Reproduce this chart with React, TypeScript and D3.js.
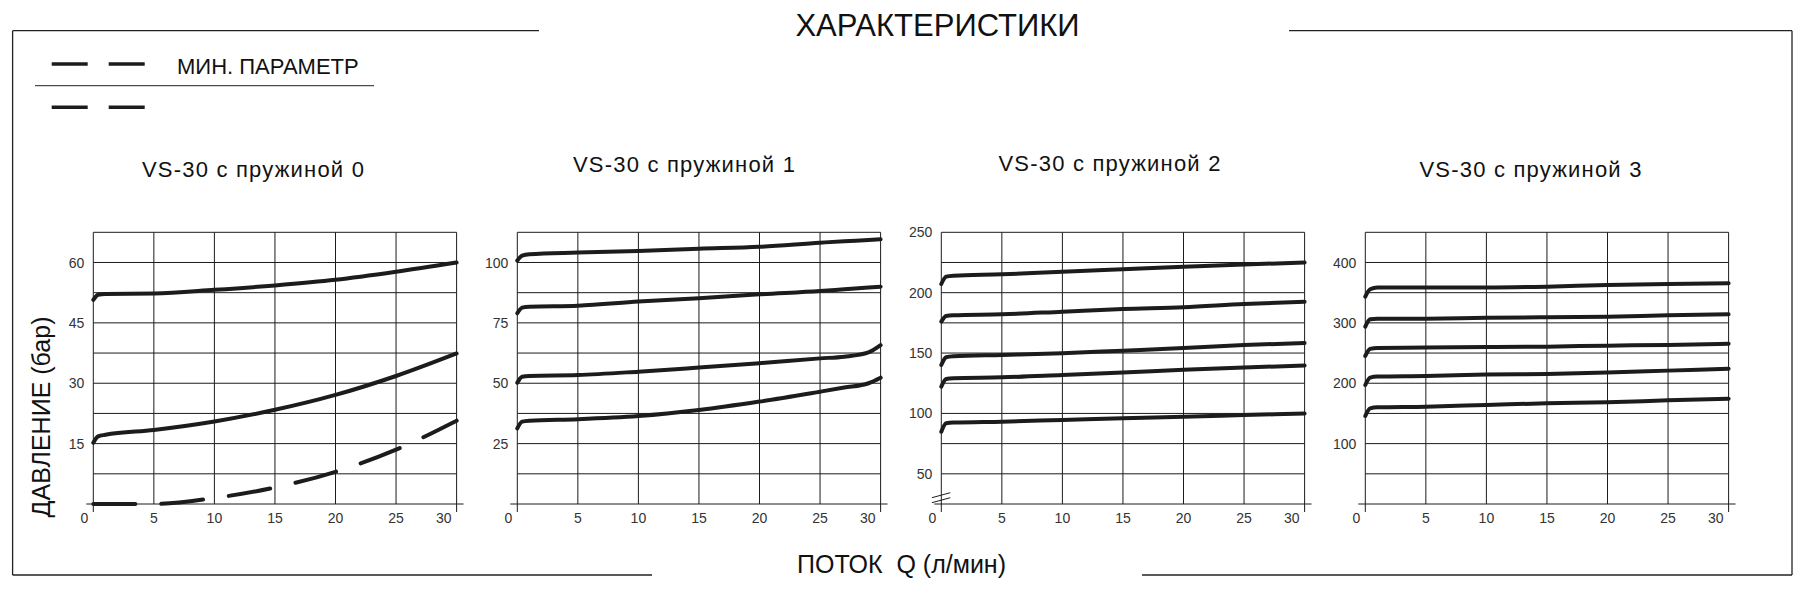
import * as d3 from "d3";
import { useEffect, useRef } from "react";

const WIDTH = 1801;
const HEIGHT = 603;

const springTitles = [
  "VS-30 с пружиной 0",
  "VS-30 с пружиной 1",
  "VS-30 с пружиной 2",
  "VS-30 с пружиной 3",
];

// x axis: flow Q, l/min
const flowTicks = [0, 5, 10, 15, 20, 25, 30];

// y axis per chart: pressure, bar
const yDomains = [
  [0, 67.5],
  [0, 112.5],
  [25, 250],
  [0, 450],
];
const yGridSteps = [7.5, 12.5, 25, 50];
const yLabels = [
  [15, 30, 45, 60],
  [25, 50, 75, 100],
  [50, 100, 150, 200, 250],
  [100, 200, 300, 400],
];

// flow points where the curves were read
const flowQ = [0, 0.4, 1, 5, 10, 15, 20, 25, 30];
const flowQ1 = [0, 0.4, 1, 5, 10, 15, 20, 25, 27, 29, 30];
const minFlowQ = [0, 5, 10, 15, 20, 25, 30];

const spring0 = [
  [50.7, 52.0, 52.2, 52.3, 53.2, 54.3, 55.7, 57.7, 60.0],
  [15.2, 16.8, 17.2, 18.4, 20.5, 23.4, 27.1, 31.8, 37.4],
];
const spring0Min = [0, 0, 1.5, 4.1, 8.0, 13.5, 20.7];

const spring1 = [
  [100.8, 102.8, 103.4, 104.1, 104.8, 105.7, 106.5, 108.2, 108.8, 109.3, 109.6],
  [79.0, 81.3, 81.7, 82.1, 83.8, 85.2, 86.8, 88.2, 88.9, 89.6, 90.0],
  [50.2, 52.7, 53.0, 53.4, 54.8, 56.5, 58.3, 60.3, 61.0, 62.8, 65.8],
  [31.3, 34.1, 34.5, 35.1, 36.4, 38.9, 42.4, 46.5, 48.2, 50.0, 52.3],
];

const spring2 = [
  [207.2, 213.3, 214.1, 215.2, 217.4, 219.4, 221.4, 223.3, 225.0],
  [176.0, 180.7, 181.3, 182.1, 184.3, 186.5, 187.9, 190.6, 192.5],
  [140.1, 146.5, 147.3, 148.4, 149.8, 152.0, 154.2, 156.7, 158.3],
  [122.2, 128.5, 129.2, 129.9, 131.8, 133.8, 136.1, 138.0, 139.7],
  [84.9, 91.8, 92.4, 93.2, 94.6, 96.0, 97.2, 98.6, 100.0],
];

const spring3 = [
  [343.5, 355.6, 358.4, 358.4, 358.5, 360.0, 362.8, 364.4, 365.5],
  [293.8, 305.9, 306.8, 307.0, 308.4, 309.2, 310.3, 312.5, 314.2],
  [245.2, 256.8, 258.5, 259.0, 260.0, 260.6, 262.3, 263.4, 265.6],
  [197.1, 209.3, 211.0, 212.0, 214.5, 215.4, 217.6, 220.9, 224.2],
  [145.8, 158.5, 160.3, 161.2, 164.0, 166.8, 168.4, 171.7, 174.5],
];

const springCurves = [spring0, spring1, spring2, spring3];
const springFlows = [flowQ, flowQ1, flowQ, flowQ];

// layout
const plotLeft = 93.3;
const chartStep = 424;
const plotWidth = 363.3;
const plotTop = 232.3;
const plotBottom = 504;
const titleX = [253.5, 684.5, 1110, 1531];
const titleY = [177.3, 172, 171, 177];
const FONT = "'Liberation Sans', Arial, sans-serif";
const INK = "#1c1c1c";

function App() {
  const ref = useRef(null);

  useEffect(() => {
    const svg = d3.select(ref.current);
    svg.selectAll("*").remove();
    svg.attr("font-family", FONT);

    // outer frame, broken for the title and the x caption
    const frame = svg
      .append("g")
      .attr("stroke", "#222")
      .attr("stroke-width", 1.3)
      .attr("fill", "none");
    const segs = [
      [12.6, 30.7, 539, 30.7],
      [1289, 30.7, 1792, 30.7],
      [12.6, 575, 652, 575],
      [1142, 575, 1792, 575],
      [12.6, 30.7, 12.6, 575],
      [1792, 30.7, 1792, 575],
    ];
    segs.forEach(([x1, y1, x2, y2]) => {
      frame.append("line").attr("x1", x1).attr("y1", y1).attr("x2", x2).attr("y2", y2);
    });

    svg
      .append("text")
      .attr("x", 937.5)
      .attr("y", 36)
      .attr("text-anchor", "middle")
      .attr("font-size", 31)
      .attr("fill", "#111")
      .text("ХАРАКТЕРИСТИКИ");

    svg
      .append("text")
      .attr("x", 797)
      .attr("y", 573)
      .attr("font-size", 25)
      .attr("fill", "#111")
      .attr("xml:space", "preserve")
      .text("ПОТОК  Q (л/мин)");

    svg
      .append("text")
      .attr("transform", "translate(50,417) rotate(-90)")
      .attr("text-anchor", "middle")
      .attr("font-size", 25)
      .attr("fill", "#111")
      .text("ДАВЛЕНИЕ (бар)");

    // legend
    const legend = svg.append("g");
    [64, 107.3].forEach((ly) => {
      legend
        .append("line")
        .attr("x1", 51.7)
        .attr("x2", 144.7)
        .attr("y1", ly)
        .attr("y2", ly)
        .attr("stroke", INK)
        .attr("stroke-width", 3.5)
        .attr("stroke-dasharray", "36 21");
    });
    legend
      .append("line")
      .attr("x1", 35)
      .attr("x2", 374)
      .attr("y1", 85.7)
      .attr("y2", 85.7)
      .attr("stroke", "#222")
      .attr("stroke-width", 1);
    legend
      .append("text")
      .attr("x", 177)
      .attr("y", 74)
      .attr("font-size", 22)
      .attr("fill", "#111")
      .text("МИН. ПАРАМЕТР");

    springCurves.forEach((curves, i) => {
      const left = plotLeft + i * chartStep;
      const [y0, y1] = yDomains[i];
      const x = d3.scaleLinear().domain([0, 30]).range([left, left + plotWidth]);
      const y = d3.scaleLinear().domain([y0, y1]).range([plotBottom, plotTop]);
      const g = svg.append("g");

      g.append("text")
        .attr("x", titleX[i])
        .attr("y", titleY[i])
        .attr("text-anchor", "middle")
        .attr("font-size", 22)
        .attr("letter-spacing", 1.2)
        .attr("fill", "#111")
        .text(springTitles[i]);

      const grid = g.append("g").attr("stroke", INK).attr("stroke-width", 1);

      // vertical grid, the end ones run below the axis as ticks
      grid
        .selectAll("line.v")
        .data(flowTicks)
        .join("line")
        .attr("x1", (d) => x(d))
        .attr("x2", (d) => x(d))
        .attr("y1", plotTop)
        .attr("y2", (d) => (d === 0 || d === 30 ? plotBottom + 8 : plotBottom));

      // horizontal grid, the bottom one is the axis and sticks out
      const gridVals = d3.range(y0, y1 + 1e-6, yGridSteps[i]);
      grid
        .selectAll("line.h")
        .data(gridVals)
        .join("line")
        .attr("x1", (d) => (d === y0 ? x(0) - 7 : x(0)))
        .attr("x2", (d) => (d === y0 ? x(30) + 7 : x(30)))
        .attr("y1", (d) => y(d))
        .attr("y2", (d) => y(d));

      // axis break on the chart that does not start at zero
      if (y0 > 0) {
        [0, 5].forEach((off) => {
          grid
            .append("line")
            .attr("x1", x(0) - 9.4)
            .attr("x2", x(0) + 9)
            .attr("y1", plotBottom - 6.3 + off)
            .attr("y2", plotBottom - 11.3 + off);
        });
      }

      g.selectAll("text.y")
        .data(yLabels[i])
        .join("text")
        .attr("x", x(0) - 9)
        .attr("y", (d) => y(d))
        .attr("dy", "0.36em")
        .attr("text-anchor", "end")
        .attr("font-size", 14)
        .attr("fill", "#333")
        .text((d) => d);

      g.selectAll("text.x")
        .data(flowTicks)
        .join("text")
        .attr("x", (d) => (d === 0 ? x(d) - 9 : d === 30 ? x(d) - 5 : x(d)))
        .attr("y", 523)
        .attr("text-anchor", (d) => (d === 30 ? "end" : "middle"))
        .attr("font-size", 14)
        .attr("fill", "#333")
        .text((d) => d);

      const qs = springFlows[i];
      const line = d3
        .line<number>()
        .x((_, k) => x(qs[k]))
        .y((d) => y(d))
        .curve(d3.curveMonotoneX);

      g.selectAll("path.curve")
        .data(curves)
        .join("path")
        .attr("d", (d) => line(d))
        .attr("fill", "none")
        .attr("stroke", INK)
        .attr("stroke-width", 4)
        .attr("stroke-linecap", "round");

      if (i === 0) {
        const minLine = d3
          .line<number>()
          .x((_, k) => x(minFlowQ[k]))
          .y((d) => y(d))
          .curve(d3.curveMonotoneX);
        g.append("path")
          .attr("d", minLine(spring0Min))
          .attr("fill", "none")
          .attr("stroke", INK)
          .attr("stroke-width", 4)
          .attr("stroke-linecap", "round")
          .attr("stroke-dasharray", "42 26");
      }
    });
  });

  return (
    <svg
      ref={ref}
      width={WIDTH}
      height={HEIGHT}
      style={{ position: "absolute", left: 0, top: 0, background: "#fff" }}
    />
  );
}

export default App;
